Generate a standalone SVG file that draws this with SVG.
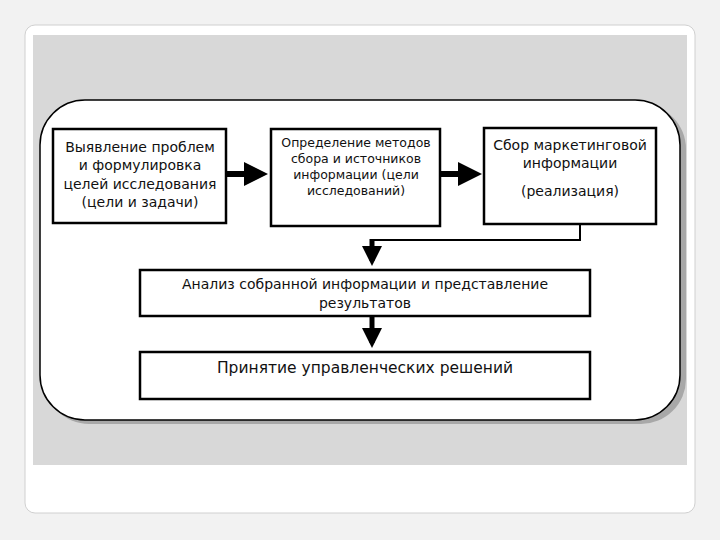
<svg xmlns="http://www.w3.org/2000/svg" width="720" height="540" viewBox="0 0 720 540">
<style>
.box{fill:#fff;stroke:#000;stroke-width:2.5}
.t{font-family:"DejaVu Sans",sans-serif;font-size:14px;text-anchor:middle;fill:#111}
.s{font-size:12.5px}
.c{stroke:#000;fill:none}
</style>
<defs><marker id="a" markerWidth="4" markerHeight="4" refX="3" refY="2" orient="auto"><path d="M0,0L4,2L0,4z" fill="#000"/></marker></defs>
<rect x="0" y="0" width="720" height="540" fill="#f2f2f2"/>
<rect x="25" y="25" width="670" height="488" rx="10" fill="#fff" stroke="#d0d0d0"/>
<rect x="33" y="35" width="654" height="430" fill="#d8d8d8"/>
<rect x="44" y="104" width="642" height="320" rx="45" fill="#a8a8a8"/>
<rect x="40" y="100" width="640" height="320" rx="45" fill="#fff" stroke="#000" stroke-width="1.5"/>
<g id="n1"><rect class="box" x="53" y="129" width="173" height="94"/>
<text class="t" x="140" y="152">Выявление проблем</text><text class="t" x="140" y="170">и формулировка</text><text class="t" x="140" y="189">целей исследования</text><text class="t" x="140" y="207">(цели и задачи)</text></g>
<g id="n2"><rect class="box" x="271" y="129" width="169" height="97"/>
<text class="t s" x="356" y="147">Определение методов</text><text class="t s" x="356" y="163">сбора и источников</text><text class="t s" x="356" y="179">информации (цели</text><text class="t s" x="356" y="195">исследований)</text></g>
<g id="n3"><rect class="box" x="484" y="128" width="172" height="96"/>
<text class="t" x="570" y="150">Сбор маркетинговой</text><text class="t" x="570" y="168">информации</text><text class="t" x="570" y="196">(реализация)</text></g>
<g id="n4"><rect class="box" x="140" y="270" width="450" height="46"/>
<text class="t" x="365" y="289">Анализ собранной информации и представление</text><text class="t" x="365" y="308">результатов</text></g>
<g id="n5"><rect class="box" x="140" y="352" width="450" height="47"/>
<text class="t" x="365" y="373" style="font-size:15.5px">Принятие управленческих решений</text></g>
<g id="connectors">
<line class="c" x1="226" y1="174" x2="262" y2="174" stroke-width="6" marker-end="url(#a)"/>
<line class="c" x1="440" y1="174" x2="476" y2="174" stroke-width="6" marker-end="url(#a)"/>
<polyline class="c" points="580,224 580,240 372,240" stroke-width="2"/>
<line class="c" x1="372" y1="239" x2="372" y2="261" stroke-width="5" marker-end="url(#a)"/>
<line class="c" x1="372" y1="316" x2="372" y2="343" stroke-width="5" marker-end="url(#a)"/>
</g>
</svg>
